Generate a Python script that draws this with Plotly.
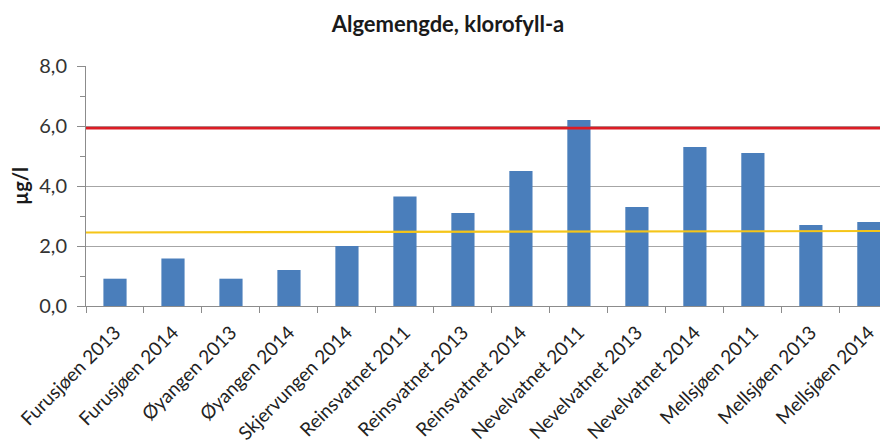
import plotly.graph_objects as go

categories = ["Furusjøen 2013", "Furusjøen 2014", "Øyangen 2013", "Øyangen 2014",
              "Skjervungen 2014", "Reinsvatnet 2011", "Reinsvatnet 2013", "Reinsvatnet 2014",
              "Nevelvatnet 2011", "Nevelvatnet 2013", "Nevelvatnet 2014",
              "Mellsjøen 2011", "Mellsjøen 2013", "Mellsjøen 2014"]
values = [0.91, 1.58, 0.91, 1.2, 2.0, 3.65, 3.1, 4.5, 6.2, 3.3, 5.3, 5.1, 2.7, 2.8]
red_limit = [5.93, 5.93]      # start, end
yellow_limit = [2.45, 2.50]   # start, end
y_ticks = [0, 2, 4, 6, 8]
y_tick_labels = ["0,0", "2,0", "4,0", "6,0", "8,0"]

FONT = "Lato"
fig = go.Figure()
fig.add_trace(go.Bar(x=categories, y=values, marker_color="#4a7ebb",
                     marker_line_width=0, width=0.4))

fig.add_shape(type="line", xref="paper", x0=0, x1=1, yref="y",
              y0=yellow_limit[0], y1=yellow_limit[1],
              line=dict(color="#f5c518", width=2.2), layer="above")
fig.add_shape(type="line", xref="paper", x0=0, x1=1, yref="y",
              y0=red_limit[0], y1=red_limit[1],
              line=dict(color="#dc1c24", width=2.8), layer="above")

fig.update_layout(
    width=880, height=438,
    margin=dict(l=78, r=0, t=58, b=140, autoexpand=False),
    paper_bgcolor="white", plot_bgcolor="white",
    showlegend=False,
    bargap=0.6,
    title=dict(text="<b>Algemengde, klorofyll-a</b>", x=0.5, xanchor="center",
               xref="container",
               y=1 - 16 / 438, yanchor="middle",
               font=dict(family=FONT, size=22, color="#1a1a1a")),
    font=dict(family=FONT, color="#333333"),
)
fig.update_xaxes(
    type="category", range=[-0.5, 13.33],
    showline=True, linecolor="#8c8c8c", linewidth=1,
    ticks="outside", tickson="boundaries", ticklen=6, tickcolor="#8c8c8c",
    ticklabelstandoff=7,
    tickangle=-45, tickfont=dict(family=FONT, size=19, color="#222222"),
    showgrid=False, automargin=False,
)
fig.update_yaxes(
    range=[0, 8], tickvals=y_ticks, ticktext=y_tick_labels,
    showline=True, linecolor="#8c8c8c", linewidth=1,
    ticks="outside", ticklen=8, tickcolor="#8c8c8c",
    ticklabelstandoff=6,
    minor=dict(dtick=1, ticks="outside", ticklen=5, tickcolor="#8c8c8c", showgrid=False),
    showgrid=True, gridcolor="#a6a6a6", gridwidth=1,
    zeroline=False, automargin=False,
    tickfont=dict(family=FONT, size=20, color="#333333"),
    title=dict(text="<b>µg/l</b>", font=dict(family=FONT, size=20, color="#1a1a1a"), standoff=6),
)

fig.write_html("out.html")
